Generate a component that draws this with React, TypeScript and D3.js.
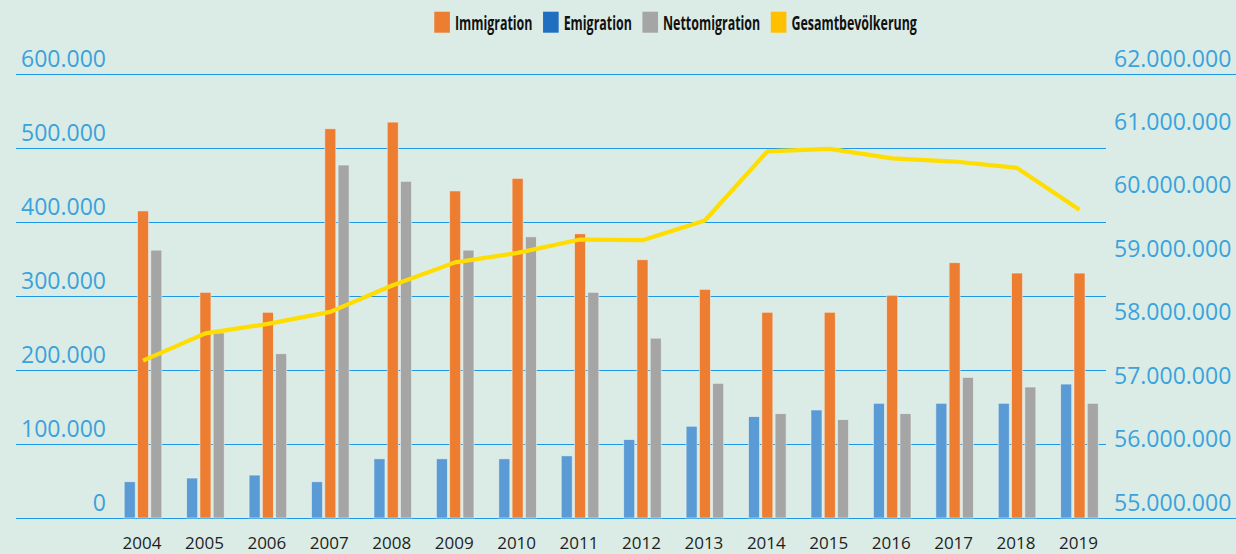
import React, { useMemo } from "react";
import * as d3 from "d3";

const years = ["2004","2005","2006","2007","2008","2009","2010","2011","2012","2013","2014","2015","2016","2017","2018","2019"];
const immigration = [415000, 305000, 278000, 526000, 535000, 442000, 459000, 384000, 349000, 309000, 278000, 278000, 301000, 345000, 331000, 331000];
const emigration = [49000, 54000, 58000, 49000, 80000, 80000, 80000, 84000, 106000, 124000, 137000, 146000, 155000, 155000, 155000, 181000];
const netto = [362000, 250000, 222000, 477000, 455000, 362000, 380000, 305000, 243000, 182000, 141000, 133000, 141000, 190000, 177000, 155000];
const population = [57480000, 57910000, 58060000, 58250000, 58670000, 59030000, 59180000, 59390000, 59380000, 59690000, 60780000, 60820000, 60670000, 60620000, 60520000, 59860000];
const leftTicks = [0, 100000, 200000, 300000, 400000, 500000, 600000];
const rightTicks = [55000000, 56000000, 57000000, 58000000, 59000000, 60000000, 61000000, 62000000];
const legendItems = [
  { label: "Immigration", color: "#ED7D31" },
  { label: "Emigration", color: "#1F6EBF" },
  { label: "Nettomigration", color: "#A5A5A5" },
  { label: "Gesamtbevölkerung", color: "#FFC000" },
];

const W = 1236;
const H = 554;
const BG = "#DAECE5";
const GRID = "#1E98E4";
const LABEL = "#3AA2DD";

const fmt = (v: number) => {
  const s = String(v);
  return s.replace(/\B(?=(\d{3})+(?!\d))/g, ".");
};

export default function App() {
  const top = 74;
  const bottom = 518;
  const yL = d3.scaleLinear().domain([0, 600000]).range([bottom, top]);
  const yR = d3.scaleLinear().domain([55000000, 62000000]).range([bottom, top]);
  const x = d3.scaleBand<string>().domain(years).range([111.8, 1110.7]).padding(0);
  const series = [
    { key: "emi", values: emigration, color: "#5B9BD5" },
    { key: "imm", values: immigration, color: "#ED7D31" },
    { key: "net", values: netto, color: "#A5A5A5" },
  ];
  const inner = d3.scaleBand<string>().domain(series.map((s) => s.key)).range([-18.8, 18.8]).paddingInner(0.17).paddingOuter(0);
  const cx = (y: string) => (x(y) as number) + x.bandwidth() / 2;

  const line = d3
    .line<number>()
    .x((_, i) => cx(years[i]))
    .y((d) => yR(d));

  const legendFont = "bold 19px 'Open Sans'";
  const squeeze = 0.655;
  const legend = useMemo(() => {
    const canvas = document.createElement("canvas");
    const ctx = canvas.getContext("2d");
    let cur = 434.3;
    return legendItems.map((it) => {
      let w = 110;
      if (ctx) {
        ctx.font = legendFont;
        w = ctx.measureText(it.label).width;
      }
      const item = { ...it, x: cur, w: w * squeeze };
      cur += 15.6 + 5 + w * squeeze + 10.5;
      return item;
    });
  }, []);

  const gy = (v: number) => Math.round(v) + 0.5;

  return (
    <svg width={W} height={H} style={{ position: "absolute", left: 0, top: 0 }} fontFamily="'Open Sans', sans-serif">
      <rect x={0} y={0} width={W} height={H} fill={BG} />
      {leftTicks.map((t) => {
        const full = t === 0 || t === 600000;
        return (
          <line key={"g" + t} x1={16} x2={full ? W : 1106} y1={gy(yL(t))} y2={gy(yL(t))} stroke={GRID} strokeWidth={1.2} />
        );
      })}
      {leftTicks.map((t) => (
        <text key={"l" + t} x={106} y={yL(t) - 7} textAnchor="end" fontSize={23} fill={LABEL}>
          {fmt(t)}
        </text>
      ))}
      {rightTicks.map((t) => (
        <text key={"r" + t} x={1114} y={yR(t) - 7.5} textAnchor="start" fontSize={23} fill={LABEL}>
          {fmt(t)}
        </text>
      ))}
      {years.map((yr, i) => (
        <g key={yr}>
          {series.map((s) => {
            const bx = cx(yr) + (inner(s.key) as number);
            const v = s.values[i];
            return (
              <rect
                key={s.key}
                x={bx}
                y={yL(v)}
                width={inner.bandwidth()}
                height={yL(0) - yL(v)}
                fill={s.color}
                stroke="#EEF3EF"
                strokeOpacity={0.7}
                strokeWidth={0.8}
              />
            );
          })}
          <text x={cx(yr) - 1} y={549} textAnchor="middle" fontSize={17} fill="#1E1E1E">
            {yr}
          </text>
        </g>
      ))}
      <path d={line(population) || ""} fill="none" stroke="#FFDD00" strokeWidth={4.2} strokeLinejoin="round" strokeLinecap="butt" />
      {legend.map((it) => (
        <g key={it.label}>
          <rect x={it.x} y={11.7} width={15.6} height={21} fill={it.color} />
          <text
            transform={`translate(${it.x + 15.6 + 5},29.5) scale(${squeeze},1)`}
            fontSize={19}
            fontWeight="bold"
            fill="#111"
          >
            {it.label}
          </text>
        </g>
      ))}
    </svg>
  );
}
